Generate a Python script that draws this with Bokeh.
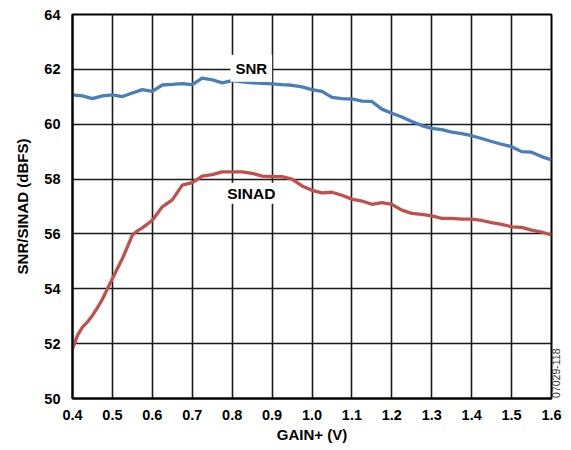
from bokeh.plotting import figure
from bokeh.models import Range1d, FixedTicker, Label, LinearAxis
from bokeh.embed import file_html
from bokeh.resources import INLINE
import math

# ---- data ----
snr_gain = [0.4, 0.425, 0.45, 0.475, 0.5, 0.525, 0.55, 0.575, 0.6, 0.625, 0.65, 0.675,
            0.7, 0.725, 0.75, 0.775, 0.8, 0.825, 0.85, 0.875, 0.9, 0.925, 0.95, 0.975,
            1.0, 1.025, 1.05, 1.075, 1.1, 1.125, 1.15, 1.175, 1.2, 1.225, 1.25, 1.275,
            1.3, 1.325, 1.35, 1.375, 1.4, 1.425, 1.45, 1.475, 1.5, 1.525, 1.55, 1.575, 1.6]
snr_db = [61.07, 61.03, 60.93, 61.03, 61.07, 61.01, 61.14, 61.26, 61.20, 61.43, 61.45, 61.48,
          61.44, 61.68, 61.62, 61.51, 61.59, 61.54, 61.51, 61.49, 61.47, 61.44, 61.42, 61.36,
          61.26, 61.20, 60.98, 60.93, 60.92, 60.84, 60.83, 60.55, 60.40, 60.26, 60.10, 59.95,
          59.85, 59.80, 59.71, 59.66, 59.58, 59.48, 59.37, 59.27, 59.18, 59.00, 58.98, 58.82, 58.70]

sinad_gain = [0.4, 0.4125, 0.425, 0.4375, 0.45, 0.4625, 0.475, 0.4875, 0.5, 0.5125, 0.525,
              0.5375, 0.55, 0.5625, 0.575, 0.6, 0.625, 0.65, 0.675, 0.7, 0.725, 0.75, 0.775,
              0.8, 0.825, 0.85, 0.875, 0.9, 0.925, 0.95, 0.975, 1.0, 1.025, 1.05, 1.075, 1.1,
              1.125, 1.15, 1.175, 1.2, 1.225, 1.25, 1.275, 1.3, 1.325, 1.35, 1.375, 1.4,
              1.425, 1.45, 1.475, 1.5, 1.525, 1.55, 1.575, 1.6]
sinad_db = [51.81, 52.30, 52.60, 52.79, 53.03, 53.31, 53.62, 54.00, 54.37, 54.74, 55.10,
            55.53, 55.96, 56.11, 56.22, 56.50, 56.99, 57.24, 57.78, 57.87, 58.11, 58.16, 58.26,
            58.26, 58.26, 58.21, 58.11, 58.09, 58.09, 58.00, 57.75, 57.59, 57.50, 57.52, 57.41, 57.27,
            57.20, 57.08, 57.14, 57.08, 56.87, 56.75, 56.71, 56.66, 56.57, 56.57, 56.54, 56.54,
            56.49, 56.41, 56.35, 56.26, 56.24, 56.14, 56.07, 55.96]

x_ticks = [0.4, 0.5, 0.6, 0.7, 0.8, 0.9, 1.0, 1.1, 1.2, 1.3, 1.4, 1.5, 1.6]
x_tick_labels = ["0.4", "0.5", "0.6", "0.7", "0.8", "0.9", "1.0", "1.1", "1.2", "1.3", "1.4", "1.5", "1.6"]
y_ticks = [50, 52, 54, 56, 58, 60, 62, 64]
y_tick_labels = ["50", "52", "54", "56", "58", "60", "62", "64"]
figure_id = "07029-118"

FONT = "Liberation Sans"

p = figure(width=570, height=448, output_backend="svg", toolbar_location=None,
           x_range=Range1d(0.4, 1.6), y_range=Range1d(50, 64),
           min_border_left=72, min_border_right=19, min_border_top=14, min_border_bottom=50)

p.outline_line_color = "black"
p.outline_line_width = 2
p.background_fill_color = "white"
p.border_fill_color = "white"

for ax in (p.xaxis[0], p.yaxis[0]):
    ax.major_label_text_font = FONT
    ax.major_label_text_font_style = "bold"
    ax.major_label_text_font_size = "14.5px"
    ax.major_label_text_color = "black"
    ax.axis_label_text_font = FONT
    ax.axis_label_text_font_style = "bold"
    ax.axis_label_text_font_size = "15px"
    ax.axis_label_text_color = "black"
    ax.major_tick_line_color = None
    ax.minor_tick_line_color = None
    ax.major_tick_out = 0
    ax.major_tick_in = 0
    ax.minor_tick_out = 0
    ax.minor_tick_in = 0
    ax.axis_line_color = "black"
    ax.axis_line_width = 2

p.xaxis.ticker = FixedTicker(ticks=x_ticks)
p.xaxis.major_label_overrides = {t: l for t, l in zip(x_ticks, x_tick_labels)}
p.yaxis.ticker = FixedTicker(ticks=y_ticks)
p.yaxis.major_label_overrides = {t: l for t, l in zip(y_ticks, y_tick_labels)}
p.xaxis.axis_label = "GAIN+ (V)"
p.yaxis.axis_label = "SNR/SINAD (dBFS)"
p.xaxis.major_label_standoff = 11
p.yaxis.major_label_standoff = 12
p.xaxis.axis_label_standoff = 3
p.yaxis.axis_label_standoff = 10

p.xgrid.grid_line_color = "#1a1a1a"
p.ygrid.grid_line_color = "#1a1a1a"
p.xgrid.grid_line_width = 1.6
p.ygrid.grid_line_width = 1.6

# right-side figure id (rotated, reads bottom to top)
rax = LinearAxis(ticker=FixedTicker(ticks=[50.02]),
                 major_label_overrides={50.02: figure_id},
                 major_label_orientation=math.pi / 2,
                 major_label_text_font=FONT, major_label_text_font_size="10.5px",
                 major_label_text_color="#333333", major_label_standoff=5,
                 axis_line_color=None, major_tick_line_color=None, minor_tick_line_color=None,
                 major_tick_out=0, major_tick_in=0, minor_tick_out=0, minor_tick_in=0)
p.add_layout(rax, "right")

p.line(snr_gain, snr_db, line_color="#4a7ebb", line_width=3.3)
p.line(sinad_gain, sinad_db, line_color="#c0504d", line_width=3.3)

p.add_layout(Label(x=0.848, y=62.04, text="SNR", text_font=FONT, text_font_style="bold",
                   text_font_size="15px", text_color="black", text_align="center",
                   text_baseline="middle", background_fill_color="white", padding=5))
p.add_layout(Label(x=0.848, y=57.48, text="SINAD", text_font=FONT, text_font_style="bold",
                   text_font_size="15.5px", text_color="black", text_align="center",
                   text_baseline="middle", background_fill_color="white", padding=2))

open("out.html", "w").write(file_html(p, INLINE))
